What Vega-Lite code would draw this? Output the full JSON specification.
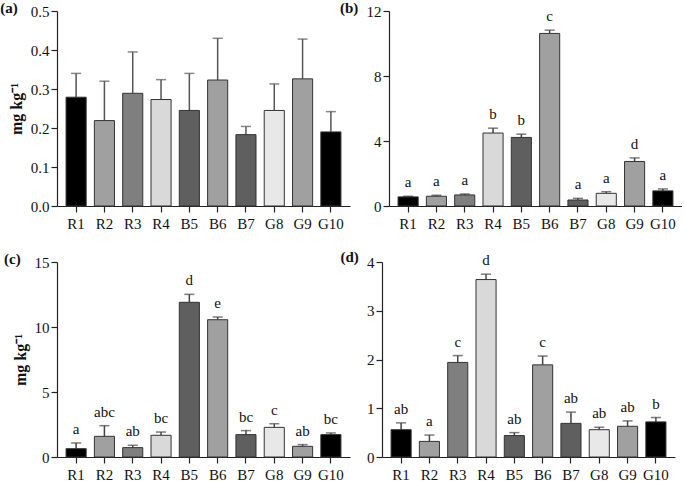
{
  "$schema": "https://vega.github.io/schema/vega-lite/v6.json",
  "padding": {"left": 0, "top": 1, "right": 0, "bottom": 0},
  "background": "white",
  "datasets": {
    "a": [
      {"g": "R1", "v": 0.279, "e": 0.340, "l": ""},
      {"g": "R2", "v": 0.219, "e": 0.320, "l": ""},
      {"g": "R3", "v": 0.289, "e": 0.395, "l": ""},
      {"g": "R4", "v": 0.273, "e": 0.324, "l": ""},
      {"g": "B5", "v": 0.245, "e": 0.340, "l": ""},
      {"g": "B6", "v": 0.323, "e": 0.430, "l": ""},
      {"g": "B7", "v": 0.183, "e": 0.204, "l": ""},
      {"g": "G8", "v": 0.245, "e": 0.313, "l": ""},
      {"g": "G9", "v": 0.326, "e": 0.428, "l": ""},
      {"g": "G10", "v": 0.190, "e": 0.242, "l": ""}
    ],
    "b": [
      {"g": "R1", "v": 0.56, "e": 0.60, "l": "a"},
      {"g": "R2", "v": 0.60, "e": 0.66, "l": "a"},
      {"g": "R3", "v": 0.68, "e": 0.74, "l": "a"},
      {"g": "R4", "v": 4.49, "e": 4.79, "l": "b"},
      {"g": "B5", "v": 4.22, "e": 4.42, "l": "b"},
      {"g": "B6", "v": 10.62, "e": 10.82, "l": "c"},
      {"g": "B7", "v": 0.37, "e": 0.47, "l": "a"},
      {"g": "G8", "v": 0.78, "e": 0.88, "l": "a"},
      {"g": "G9", "v": 2.74, "e": 2.96, "l": "d"},
      {"g": "G10", "v": 0.93, "e": 1.05, "l": "a"}
    ],
    "c": [
      {"g": "R1", "v": 0.64, "e": 1.08, "l": "a"},
      {"g": "R2", "v": 1.59, "e": 2.41, "l": "abc"},
      {"g": "R3", "v": 0.72, "e": 0.90, "l": "ab"},
      {"g": "R4", "v": 1.67, "e": 1.92, "l": "bc"},
      {"g": "B5", "v": 11.90, "e": 12.51, "l": "d"},
      {"g": "B6", "v": 10.56, "e": 10.77, "l": "e"},
      {"g": "B7", "v": 1.72, "e": 2.03, "l": "bc"},
      {"g": "G8", "v": 2.28, "e": 2.56, "l": "c"},
      {"g": "G9", "v": 0.82, "e": 0.95, "l": "ab"},
      {"g": "G10", "v": 1.72, "e": 1.85, "l": "bc"}
    ],
    "d": [
      {"g": "R1", "v": 0.56, "e": 0.70, "l": "ab"},
      {"g": "R2", "v": 0.32, "e": 0.45, "l": "a"},
      {"g": "R3", "v": 1.94, "e": 2.08, "l": "c"},
      {"g": "R4", "v": 3.64, "e": 3.75, "l": "d"},
      {"g": "B5", "v": 0.44, "e": 0.50, "l": "ab"},
      {"g": "B6", "v": 1.89, "e": 2.07, "l": "c"},
      {"g": "B7", "v": 0.69, "e": 0.92, "l": "ab"},
      {"g": "G8", "v": 0.56, "e": 0.61, "l": "ab"},
      {"g": "G9", "v": 0.63, "e": 0.74, "l": "ab"},
      {"g": "G10", "v": 0.72, "e": 0.81, "l": "b"}
    ]
  },
  "config": {
    "font": "Liberation Serif",
    "view": {"stroke": null},
    "axis": {
      "labelFont": "Liberation Serif", "labelFontSize": 15, "labelColor": "#111", "labelOverlap": false,
      "titleFont": "Liberation Serif", "titleFontSize": 16, "titleFontWeight": "bold", "titleColor": "#111",
      "domainColor": "#222", "domainWidth": 1.2, "tickColor": "#222", "tickWidth": 1.2, "tickSize": 6, "grid": false
    },
    "axisY": {"labelFlush": false},
    "title": {"font": "Liberation Serif", "fontSize": 15, "fontWeight": "bold", "color": "#111", "anchor": "start", "frame": "bounds"}
  },
  "spacing": 19,
  "vconcat": [
    {
      "spacing": -10,
      "hconcat": [
        {
          "width": 293, "height": 195,
          "title": {"text": "(a)", "dy": 12, "dx": -8, "offset": 0},
          "data": {"name": "a"},
          "encoding": {
            "x": {"field": "g", "type": "nominal", "sort": null, "title": null,
                  "scale": {"paddingInner": 0.29, "paddingOuter": 0.32},
                  "axis": {"labelAngle": 0, "labelPadding": 4}},
            "y": {"field": "v", "type": "quantitative", "scale": {"domain": [0, 0.5], "nice": false},
                  "axis": {"values": [0, 0.1, 0.2, 0.3, 0.4, 0.5], "tickCount": 6, "format": ".1f", "title": "mg kg⁻¹", "titlePadding": 6}}
          },
          "layer": [
            {"mark": {"type": "rule", "color": "#555", "strokeWidth": 1.5},
             "encoding": {"y2": {"field": "e"}}},
            {"mark": {"type": "tick", "color": "#555", "thickness": 1.5, "size": 10},
             "encoding": {"y": {"field": "e", "type": "quantitative"}}},
            {"mark": {"type": "bar", "stroke": "#333", "strokeWidth": 1},
             "encoding": {
                          "color": {"field": "g", "type": "nominal", "legend": null,
                                    "scale": {"domain": ["R1","R2","R3","R4","B5","B6","B7","G8","G9","G10"],
                                              "range": ["#000000","#a0a0a0","#7f7f7f","#d9d9d9","#5f5f5f","#a0a0a0","#5f5f5f","#e8e8e8","#a0a0a0","#000000"]}}}}
          ]
        },
        {
          "width": 293, "height": 195,
          "title": {"text": "(b)", "dy": 12, "dx": -26, "offset": 0},
          "data": {"name": "b"},
          "encoding": {
            "x": {"field": "g", "type": "nominal", "sort": null, "title": null,
                  "scale": {"paddingInner": 0.29, "paddingOuter": 0.32},
                  "axis": {"labelAngle": 0, "labelPadding": 4}},
            "y": {"field": "v", "type": "quantitative", "scale": {"domain": [0, 12], "nice": false},
                  "axis": {"values": [0, 4, 8, 12], "title": null}}
          },
          "layer": [
            {"mark": {"type": "rule", "color": "#444", "strokeWidth": 1.5},
             "encoding": {"y2": {"field": "e"}}},
            {"mark": {"type": "tick", "color": "#444", "thickness": 1.5, "size": 10},
             "encoding": {"y": {"field": "e", "type": "quantitative"}}},
            {"mark": {"type": "bar", "stroke": "#333", "strokeWidth": 1},
             "encoding": {
                          "color": {"field": "g", "type": "nominal", "legend": null,
                                    "scale": {"domain": ["R1","R2","R3","R4","B5","B6","B7","G8","G9","G10"],
                                              "range": ["#000000","#a0a0a0","#7f7f7f","#d9d9d9","#5f5f5f","#a0a0a0","#5f5f5f","#e8e8e8","#a0a0a0","#000000"]}}}},
            {"mark": {"type": "text", "baseline": "bottom", "dy": -6, "fontSize": 15, "font": "Liberation Serif", "color": "#111"},
             "encoding": {"y": {"field": "e", "type": "quantitative"}, "text": {"field": "l"}}}
          ]
        }
      ]
    },
    {
      "spacing": -10,
      "hconcat": [
        {
          "width": 293, "height": 195,
          "title": {"text": "(c)", "dy": 12, "dx": -8, "offset": 0},
          "data": {"name": "c"},
          "encoding": {
            "x": {"field": "g", "type": "nominal", "sort": null, "title": null,
                  "scale": {"paddingInner": 0.29, "paddingOuter": 0.32},
                  "axis": {"labelAngle": 0, "labelPadding": 4}},
            "y": {"field": "v", "type": "quantitative", "scale": {"domain": [0, 15], "nice": false},
                  "axis": {"values": [0, 5, 10, 15], "title": "mg kg⁻¹", "titlePadding": 6}}
          },
          "layer": [
            {"mark": {"type": "rule", "color": "#444", "strokeWidth": 1.5},
             "encoding": {"y2": {"field": "e"}}},
            {"mark": {"type": "tick", "color": "#444", "thickness": 1.5, "size": 10},
             "encoding": {"y": {"field": "e", "type": "quantitative"}}},
            {"mark": {"type": "bar", "stroke": "#333", "strokeWidth": 1},
             "encoding": {
                          "color": {"field": "g", "type": "nominal", "legend": null,
                                    "scale": {"domain": ["R1","R2","R3","R4","B5","B6","B7","G8","G9","G10"],
                                              "range": ["#000000","#a0a0a0","#7f7f7f","#d9d9d9","#5f5f5f","#a0a0a0","#5f5f5f","#e8e8e8","#a0a0a0","#000000"]}}}},
            {"mark": {"type": "text", "baseline": "bottom", "dy": -6, "fontSize": 15, "font": "Liberation Serif", "color": "#111"},
             "encoding": {"y": {"field": "e", "type": "quantitative"}, "text": {"field": "l"}}}
          ]
        },
        {
          "width": 293, "height": 195,
          "title": {"text": "(d)", "dy": 12, "dx": -26, "offset": 0},
          "data": {"name": "d"},
          "encoding": {
            "x": {"field": "g", "type": "nominal", "sort": null, "title": null,
                  "scale": {"paddingInner": 0.29, "paddingOuter": 0.32},
                  "axis": {"labelAngle": 0, "labelPadding": 4}},
            "y": {"field": "v", "type": "quantitative", "scale": {"domain": [0, 4], "nice": false},
                  "axis": {"values": [0, 1, 2, 3, 4], "title": null}}
          },
          "layer": [
            {"mark": {"type": "rule", "color": "#444", "strokeWidth": 1.5},
             "encoding": {"y2": {"field": "e"}}},
            {"mark": {"type": "tick", "color": "#444", "thickness": 1.5, "size": 10},
             "encoding": {"y": {"field": "e", "type": "quantitative"}}},
            {"mark": {"type": "bar", "stroke": "#333", "strokeWidth": 1},
             "encoding": {
                          "color": {"field": "g", "type": "nominal", "legend": null,
                                    "scale": {"domain": ["R1","R2","R3","R4","B5","B6","B7","G8","G9","G10"],
                                              "range": ["#000000","#a0a0a0","#7f7f7f","#d9d9d9","#5f5f5f","#a0a0a0","#5f5f5f","#e8e8e8","#a0a0a0","#000000"]}}}},
            {"mark": {"type": "text", "baseline": "bottom", "dy": -6, "fontSize": 15, "font": "Liberation Serif", "color": "#111"},
             "encoding": {"y": {"field": "e", "type": "quantitative"}, "text": {"field": "l"}}}
          ]
        }
      ]
    }
  ]
}
